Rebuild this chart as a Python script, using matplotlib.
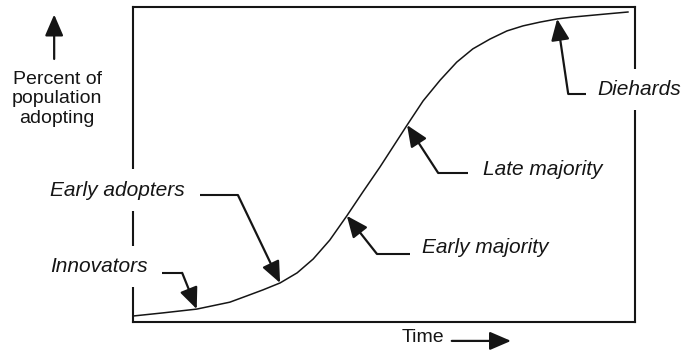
import numpy as np
import matplotlib.pyplot as plt

plt.rcParams['font.family'] = ['Liberation Sans', 'DejaVu Sans']

# Curva S de adoção: tempo x percentual acumulado
time = [0.0, 6.0, 12.7, 19.3, 22.7, 25.9, 29.3, 32.7, 35.9, 39.2, 42.6, 45.8,
        49.2, 51.8, 54.6, 57.8, 61.2, 64.5, 67.7, 71.1, 74.5, 77.7, 81.1,
        84.5, 87.6, 91.0, 94.4, 98.6]
adoption = [1.9, 2.9, 4.1, 6.3, 8.3, 10.2, 12.4, 15.6, 20.0, 26.0, 33.7, 41.3,
            49.2, 55.6, 62.5, 70.2, 76.8, 82.5, 86.7, 89.8, 92.4, 94.0, 95.2,
            96.2, 96.8, 97.3, 97.8, 98.4]

# categorias e o ponto da curva para onde cada seta aponta
categories = ['Innovators', 'Early adopters', 'Early majority', 'Late majority', 'Diehards']
target_idx = [2, 6, 10, 14, 23]

# layout das legendas: (texto x, texto y, cauda x, cotovelo x, y da linha horizontal)
label_layout = [
    (-16.5, 17.5, 5.8, 9.8, 15.6),
    (-16.5, 41.9, 13.3, 20.9, 40.3),
    (57.6, 23.5, 55.2, 48.6, 21.6),
    (69.7, 48.3, 66.7, 60.8, 47.3),
    (92.6, 73.7, 90.2, 86.7, 72.4),
]

ink = '#151515'
head = '-|>,head_length=0.65,head_width=0.28'

fig = plt.figure(figsize=(6.83, 3.52), dpi=100)
ax = fig.add_axes([0.1947, 0.0852, 0.735, 0.895])
ax.set_xlim(0, 100)
ax.set_ylim(0, 100)
ax.set_xticks([])
ax.set_yticks([])
for sp in ax.spines.values():
    sp.set_linewidth(1.5)
    sp.set_color(ink)

ax.plot(time, adoption, color=ink, lw=1.1, solid_joinstyle='round')

for name, i, (tx, ty, tail, elbow, ly) in zip(categories, target_idx, label_layout):
    ax.text(tx, ty, name, fontsize=15, style='italic', color=ink,
            ha='left', va='center', clip_on=False, zorder=5,
            bbox=dict(facecolor='white', edgecolor='none', pad=8))
    ax.plot([tail, elbow], [ly, ly], color=ink, lw=1.5, clip_on=False,
            solid_capstyle='butt', zorder=6)
    ax.annotate('', xy=(time[i], adoption[i]), xytext=(elbow, ly),
                arrowprops=dict(arrowstyle=head, color=ink, lw=1.6,
                                mutation_scale=20, shrinkA=0, shrinkB=0),
                annotation_clip=False, zorder=6)

# eixo y: rótulo e seta para cima
ax.text(-15.1, 70.8, 'Percent of\npopulation\nadopting', fontsize=14, color=ink,
        ha='center', va='center', linespacing=1.2, clip_on=False)
ax.annotate('', xy=(-15.7, 97.6), xytext=(-15.7, 83.5),
            arrowprops=dict(arrowstyle=head, color=ink, lw=1.6,
                            mutation_scale=20, shrinkA=0, shrinkB=0),
            annotation_clip=False)

# eixo x: rótulo e seta para a direita
ax.text(53.6, -4.8, 'Time', fontsize=14, color=ink,
        ha='left', va='center', clip_on=False)
ax.annotate('', xy=(75.3, -6.0), xytext=(63.5, -6.0),
            arrowprops=dict(arrowstyle=head, color=ink, lw=1.6,
                            mutation_scale=20, shrinkA=0, shrinkB=0),
            annotation_clip=False)

fig.savefig('out.png', dpi=100)
